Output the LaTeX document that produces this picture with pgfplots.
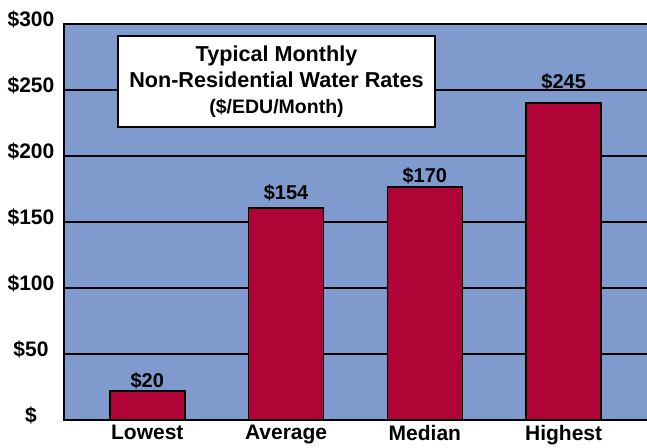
\documentclass[border=0pt]{standalone}
\usepackage{fontspec}
\setmainfont{Liberation Sans}
\usepackage{pgfplots}
\pgfplotsset{compat=1.18}
\usetikzlibrary{calc}
\definecolor{plotBlue}{RGB}{127,154,204}
\definecolor{barRed}{RGB}{176,4,54}
\begin{document}
\begin{tikzpicture}
\begin{axis}[
    scale only axis, width=585bp, height=396bp,
    xmin=-0.6, xmax=3.615, ymin=0, ymax=300,
    axis background/.style={fill=plotBlue},
    axis line style={line width=2bp},
    ymajorgrids, grid style={black, line width=2bp},
    ytick={0,50,...,300},
    yticklabels={\$,\$50,\$100,\$150,\$200,\$250,\$300},
    xtick={0,1,2,3}, xticklabels={Lowest,Average,Median,Highest},
    major tick length=0pt,
    tick label style={font=\bfseries\fontsize{21bp}{24bp}\selectfont},
    yticklabel style={anchor=center, xshift=-33bp, yshift=5bp},
    xticklabel style={yshift=-2bp},
    ybar, bar width=75bp,
    clip=false,
]
    \addplot[fill=barRed, draw=black, line width=1.5bp] coordinates {
        (0,22) (1,160.6) (2,176.5) (3,240)
    };
    \coordinate (o) at (rel axis cs:0,0);
    \begin{scope}[every node/.style={anchor=base, inner sep=0pt, font=\bfseries\fontsize{20bp}{24bp}\selectfont}]
        \node at (axis cs:0,25) {\$20};
        \node at (axis cs:1,167.4) {\$154};
        \node at (axis cs:2,180.3) {\$170};
        \node at (axis cs:3,251.5) {\$245};
    \end{scope}
\end{axis}
\node[draw=black, line width=2bp, fill=white, minimum width=317bp, minimum height=91bp,
      align=center, inner sep=0pt, font=\bfseries\fontsize{21.6bp}{26bp}\selectfont]
    at ($(o)+(212.5bp,338.5bp)$)
    {Typical Monthly\\Non-Residential Water Rates\\{\fontsize{19.5bp}{22bp}\selectfont (\$/EDU/Month)}};
\pgfresetboundingbox
\path ($(o)+(-64bp,-28bp)$) rectangle ($(o)+(583bp,420bp)$);
\end{tikzpicture}
\end{document}
